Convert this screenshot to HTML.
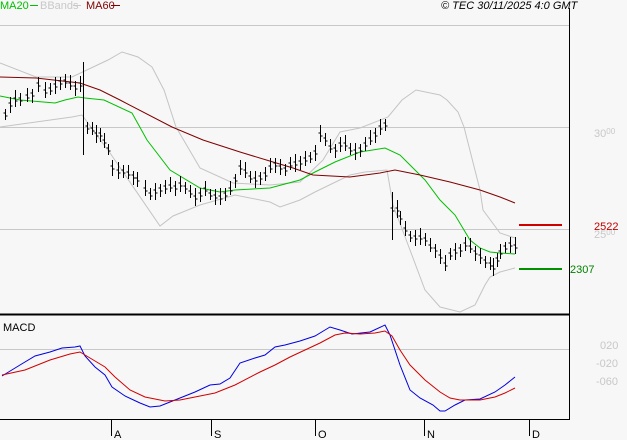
<!DOCTYPE html>
<html><head><meta charset="utf-8"><style>
html,body{margin:0;padding:0;background:#f7f7f7;}
svg{display:block;font-family:"Liberation Sans",sans-serif;}
</style></head><body>
<svg id="s" width="627" height="440" viewBox="0 0 627 440" xmlns="http://www.w3.org/2000/svg">
<rect width="627" height="440" fill="#f7f7f7"/>
<line x1="0" y1="25.5" x2="569" y2="25.5" stroke="#c8c8c8"/>
<line x1="0" y1="127.5" x2="569" y2="127.5" stroke="#c8c8c8"/>
<line x1="0" y1="229.5" x2="569" y2="229.5" stroke="#c8c8c8"/>
<line x1="0" y1="349.5" x2="569" y2="349.5" stroke="#c8c8c8"/>
<g fill="none" stroke-width="1">
<polyline id="ub" stroke="#c4c4c4" points="0,63 36,77 72,77 108,60 122,52 138,57 152,67 164,90 176,127 200,168 233,183 270,185 300,182 323,160 340,132 360,128 388,117 402,100 416,90 440,95 447,100 458,112 464,127 480,190 483,210 500,233 515,238"/>
<polyline id="lb" stroke="#c4c4c4" points="0,127 36,122 72,117 82,115 110,153 160,226 173,216 200,205 235,195 270,202 280,207 300,200 315,192 350,175 365,172 387,170 393,205 410,250 425,290 440,307 460,312 475,305 485,285 490,277 500,272 515,268"/>
<polyline stroke="#00c000" points="0,96 20,100 55,103 65,100 78,97 85,98 104,100 132,113 147,140 170,170 200,188 220,192 235,190 270,188 300,180 315,172 335,162 360,152 385,148 400,155 410,165 425,180 440,200 455,215 470,240 480,248 490,252 500,253 515,254"/>
<polyline stroke="#800000" points="0,77 36,78 80,83 100,90 120,100 172,127 203,140 240,152 273,162 293,168 313,175 350,177 380,173 395,170 420,175 450,182 480,190 500,197 515,203"/>
<polyline stroke="#0000e0" points="2,376 20,365 35,356 50,352 62,348 75,347 80,346 85,356 95,367 105,375 112,387 125,396 140,403 150,407 160,406 175,400 185,396 195,392 210,385 220,384 230,378 240,363 255,358 265,355 275,347 285,345 300,341 315,336 325,330 330,327 340,330 352,334 370,332 385,325 390,335 400,365 410,390 420,398 433,405 440,411 445,411 455,405 465,400 480,399 495,392 505,385 515,377"/>
<polyline stroke="#d00000" points="2,375 25,370 50,360 70,354 80,352 90,358 105,367 115,377 130,390 145,397 165,401 180,400 200,396 215,393 235,385 260,372 275,365 290,357 305,350 320,343 335,335 345,333 360,334 375,333 385,331 392,336 400,350 410,365 425,380 440,392 450,398 460,400 480,400 495,397 505,393 515,388"/>
</g>
<g id="bars" stroke="#000" stroke-width="1"></g>
<line x1="0" y1="314.5" x2="569" y2="314.5" stroke="#000" stroke-width="2"/>
<line x1="0" y1="419.5" x2="569" y2="419.5" stroke="#000" stroke-width="1"/>
<line x1="569.5" y1="8" x2="569.5" y2="420" stroke="#000"/>
<g stroke="#000"><line x1="111.5" y1="419" x2="111.5" y2="436"/><line x1="211.5" y1="419" x2="211.5" y2="436"/><line x1="315.5" y1="419" x2="315.5" y2="436"/><line x1="424.5" y1="419" x2="424.5" y2="436"/><line x1="529.5" y1="419" x2="529.5" y2="436"/></g>
<g font-size="11" fill="#000"><text x="114" y="438">A</text><text x="214" y="438">S</text><text x="318" y="438">O</text><text x="427" y="438">N</text><text x="532" y="438">D</text></g>
<line x1="519" y1="225" x2="562" y2="225" stroke="#d00000" stroke-width="2"/>
<line x1="519" y1="269" x2="562" y2="269" stroke="#009000" stroke-width="2"/>
<g font-size="11">
<text x="594" y="137" fill="#c8c8c8">30<tspan font-size="8" dy="-3">00</tspan></text>
<text x="594" y="238" fill="#c8c8c8">25<tspan font-size="8" dy="-3">00</tspan></text>
<text x="594" y="230" fill="#c00000">2522</text>
<text x="570" y="273" fill="#008000">2307</text>
<text x="600" y="349" fill="#c8c8c8">020</text>
<text x="596" y="367" fill="#c8c8c8">-020</text>
<text x="596" y="385" fill="#c8c8c8">-060</text>
<text x="3" y="331" fill="#000">MACD</text>
<text x="0" y="9" fill="#00c000">MA20</text><line x1="30" y1="5.5" x2="38" y2="5.5" stroke="#00c000"/>
<text x="40" y="9" fill="#c8c8c8">BBands</text><line x1="73" y1="5.5" x2="81" y2="5.5" stroke="#c8c8c8"/>
<text x="86" y="9" fill="#800000">MA60</text><line x1="111" y1="5.5" x2="120" y2="5.5" stroke="#800000"/>
<text x="441" y="9" fill="#000" font-style="italic">© TEC 30/11/2025 4:0 GMT</text>
</g>
</svg>
<script>
var p=[[5,115],[10,105],[15,100],[20,100],[27,97],[32,95],[38,85],[45,92],[50,90],[55,86],[60,83],[65,82],[70,85],[75,88],[80,85],[87,128],[92,130],[96,135],[100,135],[104,142],[108,150],[112,168],[118,172],[123,172],[128,174],[133,177],[137,180],[145,190],[150,195],[155,192],[160,190],[165,188],[170,187],[175,188],[180,185],[185,188],[190,193],[195,198],[200,195],[205,190],[210,195],[215,197],[220,198],[225,195],[230,190],[235,180],[240,168],[245,172],[250,178],[255,180],[260,178],[265,175],[270,168],[275,165],[280,168],[285,170],[290,165],[295,164],[300,163],[305,160],[310,158],[315,153],[320,135],[325,140],[330,148],[335,150],[340,145],[345,145],[350,150],[355,152],[360,150],[365,145],[370,140],[375,135],[380,128],[385,125],[392,210],[397,210],[400,218],[405,230],[410,237],[415,238],[420,238],[425,240],[430,247],[435,250],[440,257],[445,265],[450,255],[455,252],[460,250],[465,245],[470,248],[475,253],[480,257],[485,262],[490,265],[493,268],[497,260],[500,253],[505,248],[510,245],[515,247]];
var g=document.getElementById('bars'),h='';
for(var i=0;i<p.length;i++){var x=p[i][0]+.5,y=p[i][1],a=6+(i*7%5),b=5+(i*3%4);
if(p[i][0]==80){h+='<line x1="83.5" y1="62" x2="83.5" y2="155"/>';}
if(p[i][0]==392){a=18;b=30;}
h+='<line x1="'+x+'" y1="'+(y-a)+'" x2="'+x+'" y2="'+(y+b)+'"/><line x1="'+(x-2)+'" y1="'+(y-2)+'" x2="'+x+'" y2="'+(y-2)+'"/><line x1="'+x+'" y1="'+(y+1)+'" x2="'+(x+2)+'" y2="'+(y+1)+'"/>';}
g.innerHTML=h;
</script>
</body></html>
